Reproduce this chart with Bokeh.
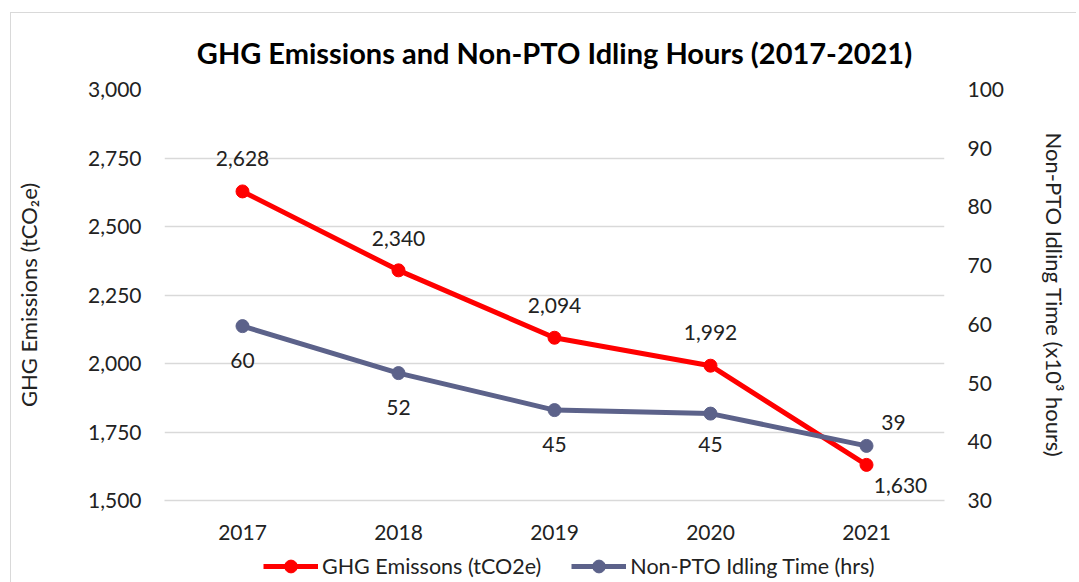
from bokeh.plotting import figure
from bokeh.layouts import column
from bokeh.models import Range1d, LinearAxis, Legend, LegendItem, FixedTicker, NumeralTickFormatter
from bokeh.embed import file_html
from bokeh.resources import INLINE
from bokeh.core.properties import value

# ---- data ----
years = ["2017", "2018", "2019", "2020", "2021"]
ghg = [2628, 2340, 2094, 1992, 1630]
idle = [59.7, 51.7, 45.4, 44.8, 39.3]
left_ticks = [1500, 1750, 2000, 2250, 2500, 2750, 3000]
right_ticks = [30, 40, 50, 60, 70, 80, 90, 100]
series_names = ["GHG Emissons (tCO2e)", "Non-PTO Idling Time (hrs)"]

# ---- styles ----
RED = "#FF0000"
BLUE = "#5C628A"
GRID = "#D9D9D9"
FONT = "Lato"
ghg_dx = [0, 0, 0, 0, 34]
ghg_dy = [-33, -32, -32, -33, 21]
idle_dx = [0, 0, 0, 0, 27]
idle_dy = [34, 34, 34, 31, -23]

p = figure(x_range=years, y_range=Range1d(1500, 3000),
           width=1065, height=537, output_backend="svg", toolbar_location=None,
           min_border_left=153, min_border_right=132, min_border_top=75, min_border_bottom=50)
p.extra_y_ranges = {"right": Range1d(30, 100)}
p.outline_line_color = None
p.background_fill_color = "white"
p.border_fill_color = "white"

p.title.text = "GHG Emissions and Non-PTO Idling Hours (2017-2021)"
p.title.align = "center"
p.title.text_font = FONT
p.title.text_font_style = "bold"
p.title.text_font_size = "29px"
p.title.text_color = "black"
p.title.standoff = 39

p.xgrid.grid_line_color = None
p.ygrid.grid_line_color = GRID
p.ygrid.grid_line_width = 1.5

yl = p.yaxis[0]
yl.ticker = FixedTicker(ticks=left_ticks)
yl.formatter = NumeralTickFormatter(format="0,0")
yl.axis_label = "GHG Emissions (tCO₂e)"

yr = LinearAxis(y_range_name="right", ticker=FixedTicker(ticks=right_ticks),
                axis_label="Non-PTO Idling Time (x10³ hours)")
p.add_layout(yr, "right")

for ax in [yl, yr]:
    ax.axis_line_color = None
    ax.major_tick_line_color = None
    ax.minor_tick_line_color = None
    ax.major_label_text_font = FONT
    ax.major_label_text_font_size = "21px"
    ax.major_label_text_color = "#222222"
    ax.major_label_standoff = 17
    ax.axis_label_text_font = FONT
    ax.axis_label_text_font_size = "22px"
    ax.axis_label_text_font_style = "normal"
    ax.axis_label_text_color = "#222222"
yl.axis_label_standoff = 43
yr.axis_label_standoff = 34

xa = p.xaxis[0]
xa.axis_line_color = GRID
xa.axis_line_width = 1.5
xa.major_tick_line_color = None
xa.minor_tick_line_color = None
xa.major_label_text_font = FONT
xa.major_label_text_font_size = "21px"
xa.major_label_text_color = "#222222"
xa.major_label_standoff = 18

p.line(years, ghg, line_color=RED, line_width=5)
p.scatter(years, ghg, size=13, fill_color=RED, line_color=RED)
p.line(years, idle, y_range_name="right", line_color=BLUE, line_width=5)
p.scatter(years, idle, y_range_name="right", size=13, fill_color=BLUE, line_color=BLUE)

p.text(x=years, y=ghg, text=[f"{v:,.0f}" for v in ghg], x_offset=ghg_dx, y_offset=ghg_dy,
       text_align="center", text_baseline="middle", text_font=value(FONT),
       text_font_size="21px", text_color="#222222")
p.text(x=years, y=idle, y_range_name="right", text=[f"{v:.0f}" for v in idle],
       x_offset=idle_dx, y_offset=idle_dy,
       text_align="center", text_baseline="middle", text_font=value(FONT),
       text_font_size="21px", text_color="#222222")

# ---- legend strip (separate figure so it sits below the axis) ----
# same series drawn into a range that hides them; only their legend glyphs show
lg = figure(width=1065, height=32, x_range=years, y_range=Range1d(0, 1),
            x_axis_location=None, y_axis_location=None, toolbar_location=None,
            output_backend="svg", min_border=0)
lg.outline_line_color = None
lg.grid.visible = False
lg.extra_y_ranges = {"right": Range1d(0, 1)}
k1 = lg.line(years, ghg, line_color=RED, line_width=5)
s1 = lg.scatter(years, ghg, size=13, fill_color=RED, line_color=RED)
k2 = lg.line(years, idle, y_range_name="right", line_color=BLUE, line_width=5)
s2 = lg.scatter(years, idle, y_range_name="right", size=13, fill_color=BLUE, line_color=BLUE)
legend = Legend(items=[LegendItem(label=series_names[0], renderers=[k1, s1]),
                       LegendItem(label=series_names[1], renderers=[k2, s2])],
                orientation="horizontal", location=(99, 0),
                glyph_width=55, glyph_height=32, label_standoff=4, spacing=30,
                padding=0, margin=0, border_line_color=None, background_fill_alpha=0,
                label_text_font=FONT, label_text_font_size="21.5px", label_text_color="#222222")
lg.add_layout(legend, "center")

layout = column(p, lg, spacing=0, margin=(12, 0, 0, 10),
                styles={"border-top": "1px solid " + GRID, "border-left": "1px solid " + GRID})

open("out.html", "w").write(file_html(layout, INLINE))
